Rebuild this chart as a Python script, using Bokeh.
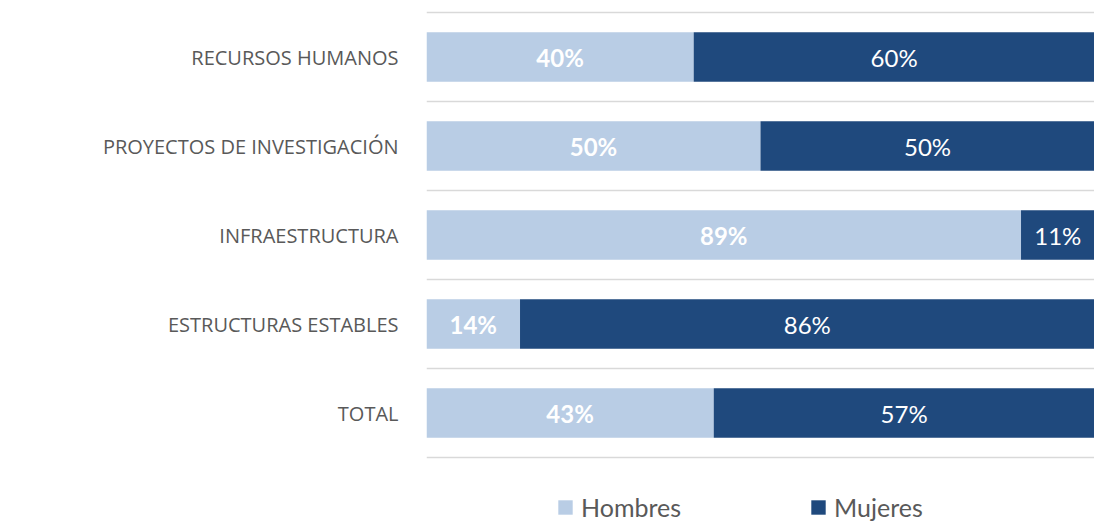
from bokeh.plotting import figure
from bokeh.models import ColumnDataSource, FixedTicker, Range1d, Legend, LegendItem
from bokeh.embed import file_html
from bokeh.resources import INLINE
from bokeh.core.properties import value

# ---- data ----
categorias = ["RECURSOS HUMANOS", "PROYECTOS DE INVESTIGACIÓN", "INFRAESTRUCTURA",
              "ESTRUCTURAS ESTABLES", "TOTAL"]
series = ["Hombres", "Mujeres"]
hombres = [40, 50, 89, 14, 43]
mujeres = [60, 50, 11, 86, 57]
colores = ["#B9CDE5", "#1F497D"]

FONT = "Lato"
CAT_FONT = "Open Sans"

# layout (in row units): extra room above the first row and below the last one for the legend
PAD_TOP = 0.09
PAD_BOTTOM = 0.73

n = len(categorias)
pos = [i + 0.5 for i in range(n)]
src = ColumnDataSource(dict(
    y=pos,
    Hombres=hombres,
    Mujeres=mujeres,
    hx=[h / 2 for h in hombres],
    mx=[h + m / 2 for h, m in zip(hombres, mujeres)],
    ht=[f"{h}%" for h in hombres],
    mt=[f"{m}%" for m in mujeres],
))

p = figure(width=1094, height=522, output_backend="svg", toolbar_location=None,
           x_range=Range1d(0, 100), y_range=Range1d(n + PAD_BOTTOM, -PAD_TOP),
           x_axis_location=None,
           min_border_left=426, min_border_right=0, min_border_top=4, min_border_bottom=0)
p.background_fill_color = "white"
p.border_fill_color = "white"
p.outline_line_color = None

renderers = p.hbar_stack(series, y="y", height=0.555, color=colores, line_color=None, source=src)

p.text(x="hx", y="y", text="ht", source=src, text_align="center", text_baseline="middle",
       text_color="white", text_font=value(FONT), text_font_size="24px", text_font_style="bold")
p.text(x="mx", y="y", text="mt", source=src, text_align="center", text_baseline="middle",
       text_color="white", text_font=value(FONT), text_font_size="24px")

# axes
p.yaxis.ticker = FixedTicker(ticks=pos)
p.yaxis.major_label_overrides = {v: c for v, c in zip(pos, categorias)}
p.yaxis.axis_line_color = None
p.yaxis.major_tick_line_color = None
p.yaxis.minor_tick_line_color = None
p.yaxis.major_label_text_font = CAT_FONT
p.yaxis.major_label_text_font_size = "20px"
p.yaxis.major_label_text_color = "#595959"
p.yaxis.major_label_standoff = 22

# grid
p.xgrid.visible = False
p.ygrid.ticker = FixedTicker(ticks=list(range(n + 1)))
p.ygrid.grid_line_color = "#D9D9D9"
p.ygrid.grid_line_width = 1.5

legend = Legend(items=[LegendItem(label=s, renderers=[r]) for s, r in zip(series, renderers)],
                orientation="horizontal", location=(130, 0),
                label_text_font=FONT, label_text_font_size="25px", label_text_color="#595959",
                glyph_width=18, glyph_height=18, label_standoff=7, spacing=128,
                padding=0, margin=0, border_line_color=None, background_fill_alpha=0)
p.add_layout(legend)

open("out.html", "w").write(file_html(p, INLINE))
